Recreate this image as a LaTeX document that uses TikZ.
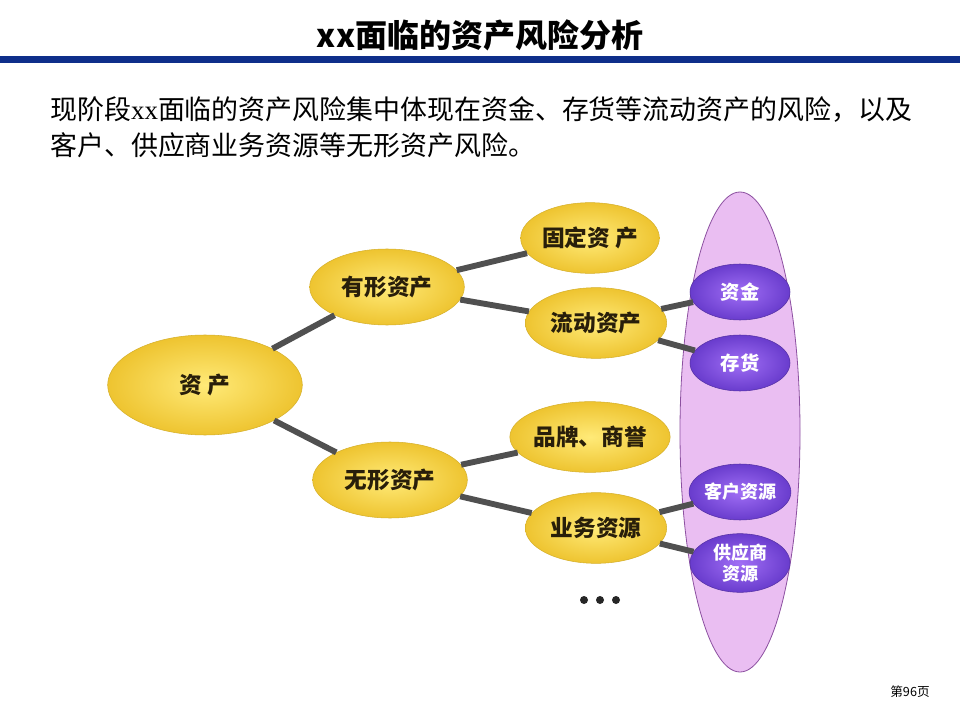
\documentclass[tikz,border=0pt]{standalone}
\usepackage{fontspec}
\usepackage{tikz}
\usetikzlibrary{shapes.geometric}
\newfontfamily\cjk{Noto Sans CJK SC}
\newfontfamily\serifxx{Liberation Serif}
\definecolor{titlebar}{RGB}{14,46,138}
\definecolor{linkgray}{RGB}{80,80,80}
\definecolor{yellowin}{RGB}{255,234,120}
\definecolor{yellowout}{RGB}{238,196,48}
\definecolor{purplein}{RGB}{160,110,245}
\definecolor{purpleout}{RGB}{105,60,205}
\definecolor{poolfill}{RGB}{234,190,242}
\definecolor{pooldraw}{RGB}{140,80,160}
\definecolor{darktext}{RGB}{40,30,10}

\begin{document}
\begin{tikzpicture}[
    x=0.75pt,y=-0.75pt,
    yel/.style={ellipse,inner sep=0pt,shade,inner color=yellowin,outer color=yellowout,
        draw=yellowout!90!black,line width=0.4pt,text=darktext,
        font=\cjk\bfseries\fontsize{17pt}{20pt}\selectfont},
    pur/.style={ellipse,inner sep=0pt,shade,inner color=purplein,outer color=purpleout,
        draw=purpleout!80!black,line width=0.4pt,text=white,align=center,
        minimum width=75pt,minimum height=42pt,
        font=\cjk\bfseries\fontsize{13.5pt}{16pt}\selectfont},
    link/.style={draw=linkgray,line width=4.4pt}
]
\useasboundingbox (0,0) rectangle (960,720);
\fill[white] (0,0) rectangle (960,720);

% title and bar
\node[font=\cjk\bfseries\fontsize{24pt}{28pt}\selectfont] (title) at (480,35) {xx面临的资产风险分析};
\fill[titlebar] (0,56) rectangle (960,63);

% lead text
\node[anchor=west,inner sep=0pt,font=\cjk\fontsize{20.2pt}{24pt}\selectfont] (line1) at (50,110)
    {现阶段{\serifxx xx}面临的资产风险集中体现在资金、存货等流动资产的风险，以及};
\node[anchor=west,inner sep=0pt,font=\cjk\fontsize{20.2pt}{24pt}\selectfont] (line2) at (50,145)
    {客户、供应商业务资源等无形资产风险。};

% pool of risk items
\node[ellipse,fill=poolfill,draw=pooldraw,line width=0.6pt,minimum width=90pt,minimum height=360pt] (pool) at (740,432) {};

% tree
\node[yel,minimum width=146pt,minimum height=75pt] (asset) at (205,385) {资 产};
\node[yel,minimum width=116pt,minimum height=57pt] (tangible) at (387,287) {有形资产};
\node[yel,minimum width=116pt,minimum height=57pt] (intangible) at (390,480) {无形资产};
\node[yel,minimum width=104pt,minimum height=53pt] (fixed) at (590,238) {固定资 产};
\node[yel,minimum width=106pt,minimum height=53pt] (current) at (596,323) {流动资产};
\node[yel,minimum width=104pt,minimum height=53pt] (brand) at (590,437) {品牌、商誉};
\node[yel,minimum width=106pt,minimum height=53pt] (business) at (596,528) {业务资源};

\node[pur,font=\cjk\bfseries\fontsize{14.5pt}{17pt}\selectfont] (cash) at (740,292) {资金};
\node[pur,font=\cjk\bfseries\fontsize{14.5pt}{17pt}\selectfont] (stock) at (740,363) {存货};
\node[pur] (customer) at (740,492) {客户资源};
\node[pur,minimum height=44pt] (supplier) at (740,563) {供应商\\资源};

\draw[link] (asset) -- (tangible);
\draw[link] (asset) -- (intangible);
\draw[link] (tangible) -- (fixed);
\draw[link] (tangible) -- (current);
\draw[link] (intangible) -- (brand);
\draw[link] (intangible) -- (business);
\draw[link] (current) -- (cash);
\draw[link] (current) -- (stock);
\draw[link] (business) -- (customer);
\draw[link] (business) -- (supplier);

% more items
\foreach \x in {584,600,616}
    \fill[black!85] (\x,600) circle (3pt);

\node[font=\cjk\fontsize{9.5pt}{11pt}\selectfont] (page) at (910,692) {第96页};
\end{tikzpicture}
\end{document}
